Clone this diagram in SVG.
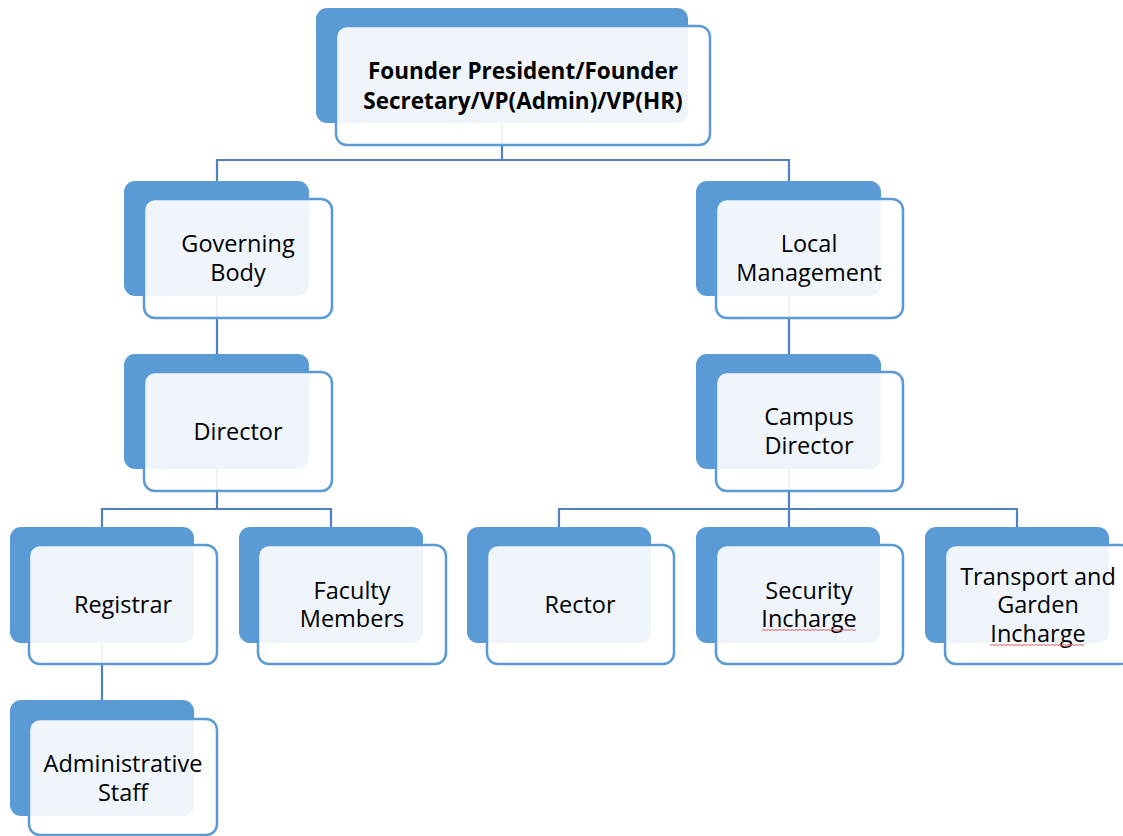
<svg xmlns="http://www.w3.org/2000/svg" width="1123" height="836" viewBox="0 0 1123 836">
<style>
.back{fill:#5B9BD5}
.front{fill:#FFFFFF;fill-opacity:0.9;stroke:#5B9BD5;stroke-width:2.5}
.conn{fill:none;stroke:#4F81BD;stroke-width:2.2}
.t{font-family:"Open Sans","Liberation Sans",sans-serif;font-size:23.5px;fill:#000;text-anchor:middle}
.b{font-weight:bold;font-size:22.5px}
.sq{fill:none;stroke:#E06060;stroke-width:1}
</style>
<rect width="1123" height="836" fill="#FFFFFF"/>
<g id="connectors">
<path class="conn" d="M502,123 V160 M217,160 H789 M217,159 V181 M789,159 V181"/>
<path class="conn" d="M217,296 V354 M789,296 V354"/>
<path class="conn" d="M217,469 V509 M102,509 H331 M102,508 V527 M331,508 V527"/>
<path class="conn" d="M789,469 V527 M559,509 H1017 M559,508 V527 M1017,508 V527"/>
<path class="conn" d="M102,643 V700"/>
</g>
<g id="founder">
<rect class="back" x="316" y="8" width="372" height="115" rx="11"/>
<rect class="front" x="336" y="26" width="374" height="119" rx="11"/>
<text class="t b" x="523" y="79">Founder President/Founder</text>
<text class="t b" x="523" y="109">Secretary/VP(Admin)/VP(HR)</text>
</g>
<g id="governing-body">
<rect class="back" x="124" y="181" width="185" height="115" rx="11"/>
<rect class="front" x="144" y="199" width="188" height="119" rx="11"/>
<text class="t" x="238" y="252">Governing</text>
<text class="t" x="238" y="281">Body</text>
</g>
<g id="director">
<rect class="back" x="124" y="354" width="185" height="115" rx="11"/>
<rect class="front" x="144" y="372" width="188" height="119" rx="11"/>
<text class="t" x="238" y="440">Director</text>
</g>
<g id="local-management">
<rect class="back" x="696" y="181" width="185" height="115" rx="11"/>
<rect class="front" x="716" y="199" width="187" height="119" rx="11"/>
<text class="t" x="809" y="252">Local</text>
<text class="t" x="809" y="281">Management</text>
</g>
<g id="campus-director">
<rect class="back" x="696" y="354" width="185" height="115" rx="11"/>
<rect class="front" x="716" y="372" width="187" height="119" rx="11"/>
<text class="t" x="809" y="425">Campus</text>
<text class="t" x="809" y="454">Director</text>
</g>
<g id="registrar">
<rect class="back" x="10" y="527" width="184" height="116" rx="11"/>
<rect class="front" x="29" y="545" width="188" height="119" rx="11"/>
<text class="t" x="123" y="613">Registrar</text>
</g>
<g id="faculty-members">
<rect class="back" x="239" y="527" width="184" height="116" rx="11"/>
<rect class="front" x="258" y="545" width="188" height="119" rx="11"/>
<text class="t" x="352" y="599">Faculty</text>
<text class="t" x="352" y="627">Members</text>
</g>
<g id="rector">
<rect class="back" x="467" y="527" width="184" height="116" rx="11"/>
<rect class="front" x="487" y="545" width="187" height="119" rx="11"/>
<text class="t" x="580" y="613">Rector</text>
</g>
<g id="security-incharge">
<rect class="back" x="696" y="527" width="184" height="116" rx="11"/>
<rect class="front" x="716" y="545" width="187" height="119" rx="11"/>
<text class="t" x="809" y="599">Security</text>
<text class="t" x="809" y="627">Incharge</text>
<path class="sq" d="M762,630.5 l2,-1 2,1 2,-1 2,1 2,-1 2,1 2,-1 2,1 2,-1 2,1 2,-1 2,1 2,-1 2,1 2,-1 2,1 2,-1 2,1 2,-1 2,1 2,-1 2,1 2,-1 2,1 2,-1 2,1 2,-1 2,1 2,-1 2,1 2,-1 2,1 2,-1 2,1 2,-1 2,1 2,-1 2,1 2,-1 2,1 2,-1 2,1 2,-1 2,1 2,-1 2,1 2,-1"/>
</g>
<g id="transport-garden-incharge">
<rect class="back" x="925" y="527" width="184" height="116" rx="11"/>
<rect class="front" x="945" y="545" width="187" height="119" rx="11"/>
<text class="t" x="1038" y="585">Transport and</text>
<text class="t" x="1038" y="613">Garden</text>
<text class="t" x="1038" y="642">Incharge</text>
<path class="sq" d="M990,645.5 l2,-1 2,1 2,-1 2,1 2,-1 2,1 2,-1 2,1 2,-1 2,1 2,-1 2,1 2,-1 2,1 2,-1 2,1 2,-1 2,1 2,-1 2,1 2,-1 2,1 2,-1 2,1 2,-1 2,1 2,-1 2,1 2,-1 2,1 2,-1 2,1 2,-1 2,1 2,-1 2,1 2,-1 2,1 2,-1 2,1 2,-1 2,1 2,-1 2,1 2,-1 2,1 2,-1"/>
</g>
<g id="administrative-staff">
<rect class="back" x="10" y="700" width="184" height="116" rx="11"/>
<rect class="front" x="29" y="719" width="188" height="116" rx="11"/>
<text class="t" x="123" y="772">Administrative</text>
<text class="t" x="123" y="801">Staff</text>
</g>
</svg>
